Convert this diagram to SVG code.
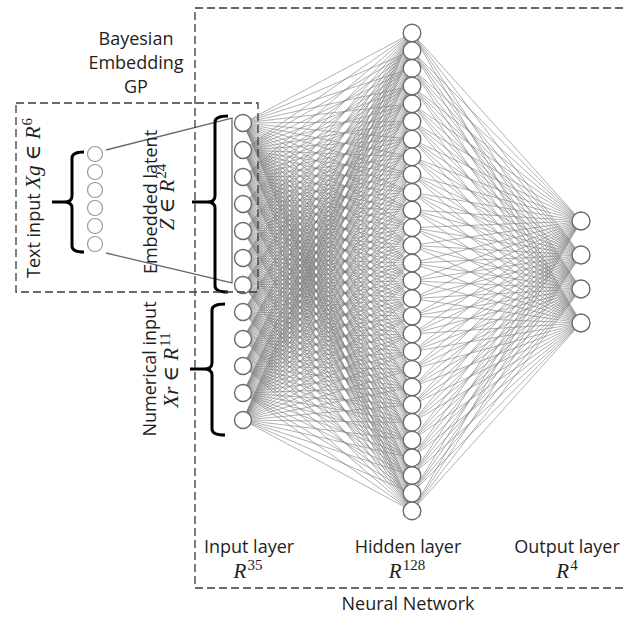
<svg xmlns="http://www.w3.org/2000/svg" width="623" height="618" viewBox="0 0 623 618">
<style>
.bg{fill:#fff}
.box{fill:none;stroke:#3a3a3a;stroke-width:1.3;stroke-dasharray:8 4}
.cn path{stroke:#7c7c7c;stroke-width:0.6;fill:none}
.nd{fill:#fff;stroke:#6a6a6a;stroke-width:1.4}
.tn{fill:#fff;stroke:#9a9a9a;stroke-width:1.2}
.trap{fill:none;stroke:#6a6a6a;stroke-width:1.3}
.brace{fill:none;stroke:#000;stroke-width:3;stroke-linejoin:round}
.lbl{font-family:"Open Sans","Noto Sans",sans-serif;font-size:18px;fill:#1e1e1e}
.m{font-family:"Liberation Serif","DejaVu Serif",serif;font-size:21px;fill:#1e1e1e}
.it{font-style:italic}
.sup{font-family:"Liberation Serif","DejaVu Serif",serif;font-size:15px;font-style:normal}
</style>
<rect class="bg" x="0" y="0" width="623" height="618"/>

<g id="connectors" class="cn">
<path d="M243 123L412 33"/><path d="M243 123L412 50.7"/><path d="M243 123L412 68.4"/><path d="M243 123L412 86.1"/><path d="M243 123L412 103.8"/><path d="M243 123L412 121.5"/><path d="M243 123L412 139.2"/><path d="M243 123L412 156.9"/><path d="M243 123L412 174.6"/><path d="M243 123L412 192.3"/><path d="M243 123L412 210"/><path d="M243 123L412 227.7"/><path d="M243 123L412 245.4"/><path d="M243 123L412 263.1"/><path d="M243 123L412 280.8"/><path d="M243 123L412 298.5"/><path d="M243 123L412 316.2"/><path d="M243 123L412 333.9"/><path d="M243 123L412 351.6"/><path d="M243 123L412 369.3"/><path d="M243 123L412 387"/><path d="M243 123L412 404.7"/><path d="M243 123L412 422.4"/><path d="M243 123L412 440.1"/><path d="M243 123L412 457.8"/><path d="M243 123L412 475.5"/><path d="M243 123L412 493.2"/><path d="M243 123L412 510.9"/>
<path d="M243 150L412 33"/><path d="M243 150L412 50.7"/><path d="M243 150L412 68.4"/><path d="M243 150L412 86.1"/><path d="M243 150L412 103.8"/><path d="M243 150L412 121.5"/><path d="M243 150L412 139.2"/><path d="M243 150L412 156.9"/><path d="M243 150L412 174.6"/><path d="M243 150L412 192.3"/><path d="M243 150L412 210"/><path d="M243 150L412 227.7"/><path d="M243 150L412 245.4"/><path d="M243 150L412 263.1"/><path d="M243 150L412 280.8"/><path d="M243 150L412 298.5"/><path d="M243 150L412 316.2"/><path d="M243 150L412 333.9"/><path d="M243 150L412 351.6"/><path d="M243 150L412 369.3"/><path d="M243 150L412 387"/><path d="M243 150L412 404.7"/><path d="M243 150L412 422.4"/><path d="M243 150L412 440.1"/><path d="M243 150L412 457.8"/><path d="M243 150L412 475.5"/><path d="M243 150L412 493.2"/><path d="M243 150L412 510.9"/>
<path d="M243 177L412 33"/><path d="M243 177L412 50.7"/><path d="M243 177L412 68.4"/><path d="M243 177L412 86.1"/><path d="M243 177L412 103.8"/><path d="M243 177L412 121.5"/><path d="M243 177L412 139.2"/><path d="M243 177L412 156.9"/><path d="M243 177L412 174.6"/><path d="M243 177L412 192.3"/><path d="M243 177L412 210"/><path d="M243 177L412 227.7"/><path d="M243 177L412 245.4"/><path d="M243 177L412 263.1"/><path d="M243 177L412 280.8"/><path d="M243 177L412 298.5"/><path d="M243 177L412 316.2"/><path d="M243 177L412 333.9"/><path d="M243 177L412 351.6"/><path d="M243 177L412 369.3"/><path d="M243 177L412 387"/><path d="M243 177L412 404.7"/><path d="M243 177L412 422.4"/><path d="M243 177L412 440.1"/><path d="M243 177L412 457.8"/><path d="M243 177L412 475.5"/><path d="M243 177L412 493.2"/><path d="M243 177L412 510.9"/>
<path d="M243 204L412 33"/><path d="M243 204L412 50.7"/><path d="M243 204L412 68.4"/><path d="M243 204L412 86.1"/><path d="M243 204L412 103.8"/><path d="M243 204L412 121.5"/><path d="M243 204L412 139.2"/><path d="M243 204L412 156.9"/><path d="M243 204L412 174.6"/><path d="M243 204L412 192.3"/><path d="M243 204L412 210"/><path d="M243 204L412 227.7"/><path d="M243 204L412 245.4"/><path d="M243 204L412 263.1"/><path d="M243 204L412 280.8"/><path d="M243 204L412 298.5"/><path d="M243 204L412 316.2"/><path d="M243 204L412 333.9"/><path d="M243 204L412 351.6"/><path d="M243 204L412 369.3"/><path d="M243 204L412 387"/><path d="M243 204L412 404.7"/><path d="M243 204L412 422.4"/><path d="M243 204L412 440.1"/><path d="M243 204L412 457.8"/><path d="M243 204L412 475.5"/><path d="M243 204L412 493.2"/><path d="M243 204L412 510.9"/>
<path d="M243 231L412 33"/><path d="M243 231L412 50.7"/><path d="M243 231L412 68.4"/><path d="M243 231L412 86.1"/><path d="M243 231L412 103.8"/><path d="M243 231L412 121.5"/><path d="M243 231L412 139.2"/><path d="M243 231L412 156.9"/><path d="M243 231L412 174.6"/><path d="M243 231L412 192.3"/><path d="M243 231L412 210"/><path d="M243 231L412 227.7"/><path d="M243 231L412 245.4"/><path d="M243 231L412 263.1"/><path d="M243 231L412 280.8"/><path d="M243 231L412 298.5"/><path d="M243 231L412 316.2"/><path d="M243 231L412 333.9"/><path d="M243 231L412 351.6"/><path d="M243 231L412 369.3"/><path d="M243 231L412 387"/><path d="M243 231L412 404.7"/><path d="M243 231L412 422.4"/><path d="M243 231L412 440.1"/><path d="M243 231L412 457.8"/><path d="M243 231L412 475.5"/><path d="M243 231L412 493.2"/><path d="M243 231L412 510.9"/>
<path d="M243 258L412 33"/><path d="M243 258L412 50.7"/><path d="M243 258L412 68.4"/><path d="M243 258L412 86.1"/><path d="M243 258L412 103.8"/><path d="M243 258L412 121.5"/><path d="M243 258L412 139.2"/><path d="M243 258L412 156.9"/><path d="M243 258L412 174.6"/><path d="M243 258L412 192.3"/><path d="M243 258L412 210"/><path d="M243 258L412 227.7"/><path d="M243 258L412 245.4"/><path d="M243 258L412 263.1"/><path d="M243 258L412 280.8"/><path d="M243 258L412 298.5"/><path d="M243 258L412 316.2"/><path d="M243 258L412 333.9"/><path d="M243 258L412 351.6"/><path d="M243 258L412 369.3"/><path d="M243 258L412 387"/><path d="M243 258L412 404.7"/><path d="M243 258L412 422.4"/><path d="M243 258L412 440.1"/><path d="M243 258L412 457.8"/><path d="M243 258L412 475.5"/><path d="M243 258L412 493.2"/><path d="M243 258L412 510.9"/>
<path d="M243 285L412 33"/><path d="M243 285L412 50.7"/><path d="M243 285L412 68.4"/><path d="M243 285L412 86.1"/><path d="M243 285L412 103.8"/><path d="M243 285L412 121.5"/><path d="M243 285L412 139.2"/><path d="M243 285L412 156.9"/><path d="M243 285L412 174.6"/><path d="M243 285L412 192.3"/><path d="M243 285L412 210"/><path d="M243 285L412 227.7"/><path d="M243 285L412 245.4"/><path d="M243 285L412 263.1"/><path d="M243 285L412 280.8"/><path d="M243 285L412 298.5"/><path d="M243 285L412 316.2"/><path d="M243 285L412 333.9"/><path d="M243 285L412 351.6"/><path d="M243 285L412 369.3"/><path d="M243 285L412 387"/><path d="M243 285L412 404.7"/><path d="M243 285L412 422.4"/><path d="M243 285L412 440.1"/><path d="M243 285L412 457.8"/><path d="M243 285L412 475.5"/><path d="M243 285L412 493.2"/><path d="M243 285L412 510.9"/>
<path d="M243 312L412 33"/><path d="M243 312L412 50.7"/><path d="M243 312L412 68.4"/><path d="M243 312L412 86.1"/><path d="M243 312L412 103.8"/><path d="M243 312L412 121.5"/><path d="M243 312L412 139.2"/><path d="M243 312L412 156.9"/><path d="M243 312L412 174.6"/><path d="M243 312L412 192.3"/><path d="M243 312L412 210"/><path d="M243 312L412 227.7"/><path d="M243 312L412 245.4"/><path d="M243 312L412 263.1"/><path d="M243 312L412 280.8"/><path d="M243 312L412 298.5"/><path d="M243 312L412 316.2"/><path d="M243 312L412 333.9"/><path d="M243 312L412 351.6"/><path d="M243 312L412 369.3"/><path d="M243 312L412 387"/><path d="M243 312L412 404.7"/><path d="M243 312L412 422.4"/><path d="M243 312L412 440.1"/><path d="M243 312L412 457.8"/><path d="M243 312L412 475.5"/><path d="M243 312L412 493.2"/><path d="M243 312L412 510.9"/>
<path d="M243 339L412 33"/><path d="M243 339L412 50.7"/><path d="M243 339L412 68.4"/><path d="M243 339L412 86.1"/><path d="M243 339L412 103.8"/><path d="M243 339L412 121.5"/><path d="M243 339L412 139.2"/><path d="M243 339L412 156.9"/><path d="M243 339L412 174.6"/><path d="M243 339L412 192.3"/><path d="M243 339L412 210"/><path d="M243 339L412 227.7"/><path d="M243 339L412 245.4"/><path d="M243 339L412 263.1"/><path d="M243 339L412 280.8"/><path d="M243 339L412 298.5"/><path d="M243 339L412 316.2"/><path d="M243 339L412 333.9"/><path d="M243 339L412 351.6"/><path d="M243 339L412 369.3"/><path d="M243 339L412 387"/><path d="M243 339L412 404.7"/><path d="M243 339L412 422.4"/><path d="M243 339L412 440.1"/><path d="M243 339L412 457.8"/><path d="M243 339L412 475.5"/><path d="M243 339L412 493.2"/><path d="M243 339L412 510.9"/>
<path d="M243 366L412 33"/><path d="M243 366L412 50.7"/><path d="M243 366L412 68.4"/><path d="M243 366L412 86.1"/><path d="M243 366L412 103.8"/><path d="M243 366L412 121.5"/><path d="M243 366L412 139.2"/><path d="M243 366L412 156.9"/><path d="M243 366L412 174.6"/><path d="M243 366L412 192.3"/><path d="M243 366L412 210"/><path d="M243 366L412 227.7"/><path d="M243 366L412 245.4"/><path d="M243 366L412 263.1"/><path d="M243 366L412 280.8"/><path d="M243 366L412 298.5"/><path d="M243 366L412 316.2"/><path d="M243 366L412 333.9"/><path d="M243 366L412 351.6"/><path d="M243 366L412 369.3"/><path d="M243 366L412 387"/><path d="M243 366L412 404.7"/><path d="M243 366L412 422.4"/><path d="M243 366L412 440.1"/><path d="M243 366L412 457.8"/><path d="M243 366L412 475.5"/><path d="M243 366L412 493.2"/><path d="M243 366L412 510.9"/>
<path d="M243 393L412 33"/><path d="M243 393L412 50.7"/><path d="M243 393L412 68.4"/><path d="M243 393L412 86.1"/><path d="M243 393L412 103.8"/><path d="M243 393L412 121.5"/><path d="M243 393L412 139.2"/><path d="M243 393L412 156.9"/><path d="M243 393L412 174.6"/><path d="M243 393L412 192.3"/><path d="M243 393L412 210"/><path d="M243 393L412 227.7"/><path d="M243 393L412 245.4"/><path d="M243 393L412 263.1"/><path d="M243 393L412 280.8"/><path d="M243 393L412 298.5"/><path d="M243 393L412 316.2"/><path d="M243 393L412 333.9"/><path d="M243 393L412 351.6"/><path d="M243 393L412 369.3"/><path d="M243 393L412 387"/><path d="M243 393L412 404.7"/><path d="M243 393L412 422.4"/><path d="M243 393L412 440.1"/><path d="M243 393L412 457.8"/><path d="M243 393L412 475.5"/><path d="M243 393L412 493.2"/><path d="M243 393L412 510.9"/>
<path d="M243 420L412 33"/><path d="M243 420L412 50.7"/><path d="M243 420L412 68.4"/><path d="M243 420L412 86.1"/><path d="M243 420L412 103.8"/><path d="M243 420L412 121.5"/><path d="M243 420L412 139.2"/><path d="M243 420L412 156.9"/><path d="M243 420L412 174.6"/><path d="M243 420L412 192.3"/><path d="M243 420L412 210"/><path d="M243 420L412 227.7"/><path d="M243 420L412 245.4"/><path d="M243 420L412 263.1"/><path d="M243 420L412 280.8"/><path d="M243 420L412 298.5"/><path d="M243 420L412 316.2"/><path d="M243 420L412 333.9"/><path d="M243 420L412 351.6"/><path d="M243 420L412 369.3"/><path d="M243 420L412 387"/><path d="M243 420L412 404.7"/><path d="M243 420L412 422.4"/><path d="M243 420L412 440.1"/><path d="M243 420L412 457.8"/><path d="M243 420L412 475.5"/><path d="M243 420L412 493.2"/><path d="M243 420L412 510.9"/>
<path d="M412 33L581 221"/><path d="M412 50.7L581 221"/><path d="M412 68.4L581 221"/><path d="M412 86.1L581 221"/><path d="M412 103.8L581 221"/><path d="M412 121.5L581 221"/><path d="M412 139.2L581 221"/><path d="M412 156.9L581 221"/><path d="M412 174.6L581 221"/><path d="M412 192.3L581 221"/><path d="M412 210L581 221"/><path d="M412 227.7L581 221"/><path d="M412 245.4L581 221"/><path d="M412 263.1L581 221"/><path d="M412 280.8L581 221"/><path d="M412 298.5L581 221"/><path d="M412 316.2L581 221"/><path d="M412 333.9L581 221"/><path d="M412 351.6L581 221"/><path d="M412 369.3L581 221"/><path d="M412 387L581 221"/><path d="M412 404.7L581 221"/><path d="M412 422.4L581 221"/><path d="M412 440.1L581 221"/><path d="M412 457.8L581 221"/><path d="M412 475.5L581 221"/><path d="M412 493.2L581 221"/><path d="M412 510.9L581 221"/>
<path d="M412 33L581 255"/><path d="M412 50.7L581 255"/><path d="M412 68.4L581 255"/><path d="M412 86.1L581 255"/><path d="M412 103.8L581 255"/><path d="M412 121.5L581 255"/><path d="M412 139.2L581 255"/><path d="M412 156.9L581 255"/><path d="M412 174.6L581 255"/><path d="M412 192.3L581 255"/><path d="M412 210L581 255"/><path d="M412 227.7L581 255"/><path d="M412 245.4L581 255"/><path d="M412 263.1L581 255"/><path d="M412 280.8L581 255"/><path d="M412 298.5L581 255"/><path d="M412 316.2L581 255"/><path d="M412 333.9L581 255"/><path d="M412 351.6L581 255"/><path d="M412 369.3L581 255"/><path d="M412 387L581 255"/><path d="M412 404.7L581 255"/><path d="M412 422.4L581 255"/><path d="M412 440.1L581 255"/><path d="M412 457.8L581 255"/><path d="M412 475.5L581 255"/><path d="M412 493.2L581 255"/><path d="M412 510.9L581 255"/>
<path d="M412 33L581 289"/><path d="M412 50.7L581 289"/><path d="M412 68.4L581 289"/><path d="M412 86.1L581 289"/><path d="M412 103.8L581 289"/><path d="M412 121.5L581 289"/><path d="M412 139.2L581 289"/><path d="M412 156.9L581 289"/><path d="M412 174.6L581 289"/><path d="M412 192.3L581 289"/><path d="M412 210L581 289"/><path d="M412 227.7L581 289"/><path d="M412 245.4L581 289"/><path d="M412 263.1L581 289"/><path d="M412 280.8L581 289"/><path d="M412 298.5L581 289"/><path d="M412 316.2L581 289"/><path d="M412 333.9L581 289"/><path d="M412 351.6L581 289"/><path d="M412 369.3L581 289"/><path d="M412 387L581 289"/><path d="M412 404.7L581 289"/><path d="M412 422.4L581 289"/><path d="M412 440.1L581 289"/><path d="M412 457.8L581 289"/><path d="M412 475.5L581 289"/><path d="M412 493.2L581 289"/><path d="M412 510.9L581 289"/>
<path d="M412 33L581 323"/><path d="M412 50.7L581 323"/><path d="M412 68.4L581 323"/><path d="M412 86.1L581 323"/><path d="M412 103.8L581 323"/><path d="M412 121.5L581 323"/><path d="M412 139.2L581 323"/><path d="M412 156.9L581 323"/><path d="M412 174.6L581 323"/><path d="M412 192.3L581 323"/><path d="M412 210L581 323"/><path d="M412 227.7L581 323"/><path d="M412 245.4L581 323"/><path d="M412 263.1L581 323"/><path d="M412 280.8L581 323"/><path d="M412 298.5L581 323"/><path d="M412 316.2L581 323"/><path d="M412 333.9L581 323"/><path d="M412 351.6L581 323"/><path d="M412 369.3L581 323"/><path d="M412 387L581 323"/><path d="M412 404.7L581 323"/><path d="M412 422.4L581 323"/><path d="M412 440.1L581 323"/><path d="M412 457.8L581 323"/><path d="M412 475.5L581 323"/><path d="M412 493.2L581 323"/><path d="M412 510.9L581 323"/>
</g>

<g id="embedding-trapezoid">
<path class="trap" d="M106 150L232 118L232 283L106 253"/>
</g>

<g id="text-input-nodes">
<g id="t1"><circle class="tn" cx="95" cy="154" r="7.5"/></g>
<g id="t2"><circle class="tn" cx="95" cy="172" r="7.5"/></g>
<g id="t3"><circle class="tn" cx="95" cy="190" r="7.5"/></g>
<g id="t4"><circle class="tn" cx="95" cy="208" r="7.5"/></g>
<g id="t5"><circle class="tn" cx="95" cy="226" r="7.5"/></g>
<g id="t6"><circle class="tn" cx="95" cy="244" r="7.5"/></g>
</g>

<g id="input-layer">
<g id="in1"><circle class="nd" cx="243" cy="123" r="8.5"/></g>
<g id="in2"><circle class="nd" cx="243" cy="150" r="8.5"/></g>
<g id="in3"><circle class="nd" cx="243" cy="177" r="8.5"/></g>
<g id="in4"><circle class="nd" cx="243" cy="204" r="8.5"/></g>
<g id="in5"><circle class="nd" cx="243" cy="231" r="8.5"/></g>
<g id="in6"><circle class="nd" cx="243" cy="258" r="8.5"/></g>
<g id="in7"><circle class="nd" cx="243" cy="285" r="8.5"/></g>
<g id="in8"><circle class="nd" cx="243" cy="312" r="8.5"/></g>
<g id="in9"><circle class="nd" cx="243" cy="339" r="8.5"/></g>
<g id="in10"><circle class="nd" cx="243" cy="366" r="8.5"/></g>
<g id="in11"><circle class="nd" cx="243" cy="393" r="8.5"/></g>
<g id="in12"><circle class="nd" cx="243" cy="420" r="8.5"/></g>
</g>

<g id="hidden-layer">
<g id="h1"><circle class="nd" cx="412" cy="33" r="8.8"/></g>
<g id="h2"><circle class="nd" cx="412" cy="50.7" r="8.8"/></g>
<g id="h3"><circle class="nd" cx="412" cy="68.4" r="8.8"/></g>
<g id="h4"><circle class="nd" cx="412" cy="86.1" r="8.8"/></g>
<g id="h5"><circle class="nd" cx="412" cy="103.8" r="8.8"/></g>
<g id="h6"><circle class="nd" cx="412" cy="121.5" r="8.8"/></g>
<g id="h7"><circle class="nd" cx="412" cy="139.2" r="8.8"/></g>
<g id="h8"><circle class="nd" cx="412" cy="156.9" r="8.8"/></g>
<g id="h9"><circle class="nd" cx="412" cy="174.6" r="8.8"/></g>
<g id="h10"><circle class="nd" cx="412" cy="192.3" r="8.8"/></g>
<g id="h11"><circle class="nd" cx="412" cy="210" r="8.8"/></g>
<g id="h12"><circle class="nd" cx="412" cy="227.7" r="8.8"/></g>
<g id="h13"><circle class="nd" cx="412" cy="245.4" r="8.8"/></g>
<g id="h14"><circle class="nd" cx="412" cy="263.1" r="8.8"/></g>
<g id="h15"><circle class="nd" cx="412" cy="280.8" r="8.8"/></g>
<g id="h16"><circle class="nd" cx="412" cy="298.5" r="8.8"/></g>
<g id="h17"><circle class="nd" cx="412" cy="316.2" r="8.8"/></g>
<g id="h18"><circle class="nd" cx="412" cy="333.9" r="8.8"/></g>
<g id="h19"><circle class="nd" cx="412" cy="351.6" r="8.8"/></g>
<g id="h20"><circle class="nd" cx="412" cy="369.3" r="8.8"/></g>
<g id="h21"><circle class="nd" cx="412" cy="387" r="8.8"/></g>
<g id="h22"><circle class="nd" cx="412" cy="404.7" r="8.8"/></g>
<g id="h23"><circle class="nd" cx="412" cy="422.4" r="8.8"/></g>
<g id="h24"><circle class="nd" cx="412" cy="440.1" r="8.8"/></g>
<g id="h25"><circle class="nd" cx="412" cy="457.8" r="8.8"/></g>
<g id="h26"><circle class="nd" cx="412" cy="475.5" r="8.8"/></g>
<g id="h27"><circle class="nd" cx="412" cy="493.2" r="8.8"/></g>
<g id="h28"><circle class="nd" cx="412" cy="510.9" r="8.8"/></g>
</g>

<g id="output-layer">
<g id="o1"><circle class="nd" cx="581" cy="221" r="9"/></g>
<g id="o2"><circle class="nd" cx="581" cy="255" r="9"/></g>
<g id="o3"><circle class="nd" cx="581" cy="289" r="9"/></g>
<g id="o4"><circle class="nd" cx="581" cy="323" r="9"/></g>
</g>

<g id="braces">
<path class="brace" d="M84 152Q72 152 72 158L72 196Q72 202 64 202L52 202M64 202Q72 202 72 208L72 246Q72 252 84 252"/>
<path class="brace" d="M228 116Q215 116 215 122L215 196Q215 202 207 202L192 202M207 202Q215 202 215 208L215 286Q215 292 228 292"/>
<path class="brace" d="M225 304Q212 304 212 310L212 363Q212 369 204 369L190 369M204 369Q212 369 212 375L212 429Q212 435 225 435"/>
</g>

<g id="boxes">
<rect class="box" x="195" y="8" width="440" height="580"/>
<rect class="box" x="16" y="103" width="242" height="189"/>
</g>

<g id="labels">
<text class="lbl" x="136" y="45" text-anchor="middle">Bayesian</text>
<text class="lbl" x="136" y="69" text-anchor="middle">Embedding</text>
<text class="lbl" x="136" y="93" text-anchor="middle">GP</text>

<g transform="translate(40,198) rotate(-90)">
<text class="lbl" x="0" y="0" text-anchor="middle">Text input <tspan class="m it">Xg</tspan><tspan class="m"> ∈ </tspan><tspan class="m it">R</tspan><tspan class="sup" dx="1" dy="-8">6</tspan></text>
</g>
<g transform="translate(157,202) rotate(-90)">
<text class="lbl" x="0" y="0" text-anchor="middle">Embedded latent</text>
</g>
<g transform="translate(174,197) rotate(-90)">
<text class="m" x="0" y="0" text-anchor="middle"><tspan class="it">Z</tspan> ∈ <tspan class="it">R</tspan><tspan class="sup" dx="1" dy="-8">24</tspan></text>
</g>
<g transform="translate(156,369) rotate(-90)">
<text class="lbl" x="0" y="0" text-anchor="middle">Numerical input</text>
</g>
<g transform="translate(178,370) rotate(-90)">
<text class="m" x="0" y="0" text-anchor="middle"><tspan class="it">Xr</tspan> ∈ <tspan class="it">R</tspan><tspan class="sup" dx="1" dy="-8">11</tspan></text>
</g>

<text class="lbl" x="249" y="553" text-anchor="middle">Input layer</text>
<text class="m" x="248" y="578" text-anchor="middle"><tspan class="it">R</tspan><tspan class="sup" dx="1" dy="-8">35</tspan></text>
<text class="lbl" x="408" y="553" text-anchor="middle">Hidden layer</text>
<text class="m" x="407" y="578" text-anchor="middle"><tspan class="it">R</tspan><tspan class="sup" dx="1" dy="-8">128</tspan></text>
<text class="lbl" x="567" y="553" text-anchor="middle">Output layer</text>
<text class="m" x="567" y="578" text-anchor="middle"><tspan class="it">R</tspan><tspan class="sup" dx="1" dy="-8">4</tspan></text>
<text class="lbl" x="408" y="610" text-anchor="middle">Neural Network</text>
</g>
</svg>
